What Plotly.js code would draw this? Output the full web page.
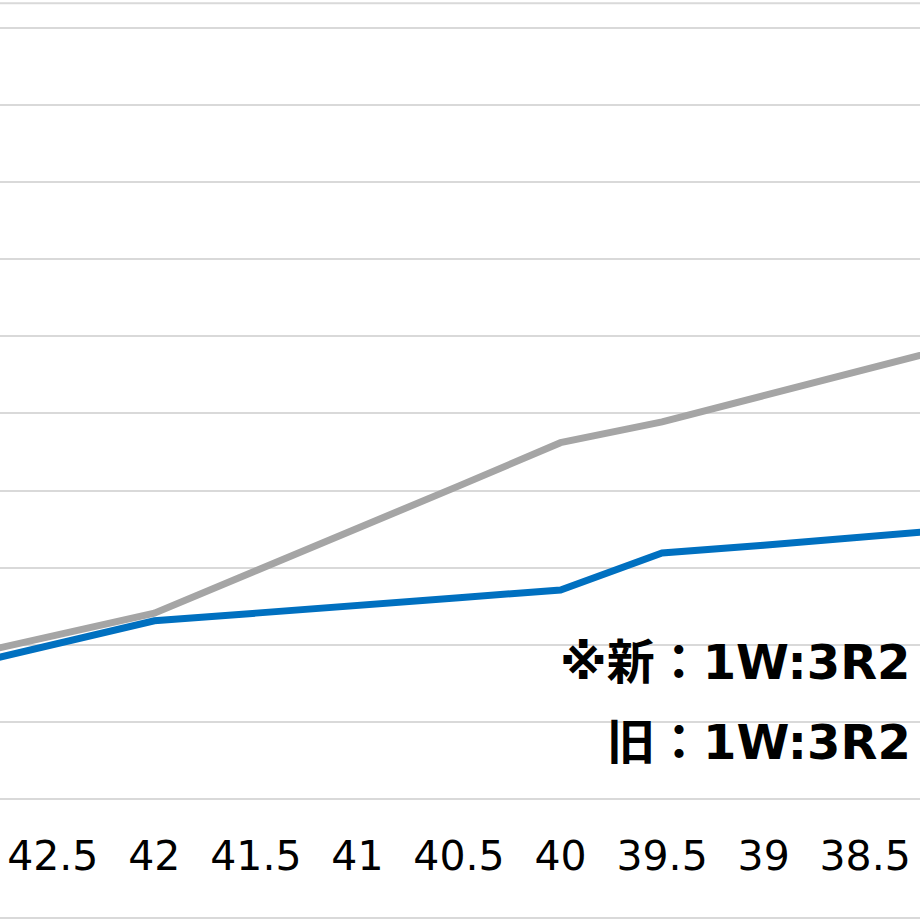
<!DOCTYPE html>
<html>
    <head>
        <meta charset="utf-8">
        <script src="https://cdn.plot.ly/plotly-3.0.1.min.js"></script>
        <style>
            html, body { margin: 0; padding: 0; background: #fff; }
        </style>
    </head>
    <body>
        <div id="plot" style="width:920px;height:920px;"></div>
        <script type="text/javascript">
            // x categories (axis runs high -> low)
            var xVals = [43, 42.5, 42, 41.5, 41, 40.5, 40, 39.5, 39, 38.5, 38];
            var tickVals = [42.5, 42, 41.5, 41, 40.5, 40, 39.5, 39, 38.5];
            var tickText = ['42.5', '42', '41.5', '41', '40.5', '40', '39.5', '39', '38.5'];

            // values
            var newVals = [16.9, 20.0, 23.1, 24.1, 25.0, 26.1, 27.1, 31.9, 32.9, 34.0, 35.1];
            var oldVals = [18.2, 21.1, 24.1, 29.6, 35.0, 40.6, 46.2, 48.9, 52.3, 55.8, 59.1];

            var noteLines = ['※新：1W:3R2', '旧：1W:3R2'];

            var traces = [
                {x: xVals, y: oldVals, name: '旧', mode: 'lines',
                 line: {color: '#A5A5A5', width: 7}},
                {x: xVals, y: newVals, name: '新', mode: 'lines',
                 line: {color: '#0070C0', width: 7}}
            ];

            var noteFont = {family: 'DejaVu Sans, "Noto Sans CJK JP", sans-serif', size: 48, color: '#000'};

            var layout = {
                width: 920,
                height: 920,
                margin: {l: 0, r: 0, t: 0, b: 121},
                paper_bgcolor: '#fff',
                plot_bgcolor: '#fff',
                showlegend: false,
                xaxis: {
                    range: [42.76, 38.23],
                    tickvals: tickVals,
                    ticktext: tickText,
                    ticks: '',
                    showgrid: false,
                    zeroline: false,
                    showline: false,
                    ticklabelstandoff: 29,
                    tickfont: {family: 'DejaVu Sans, sans-serif', size: 41, color: '#000'}
                },
                yaxis: {
                    range: [0, 103.6],
                    dtick: 10,
                    tick0: 0,
                    showticklabels: false,
                    ticks: '',
                    showgrid: true,
                    gridcolor: '#D9D9D9',
                    gridwidth: 2,
                    zeroline: false,
                    showline: false
                },
                shapes: [
                    {type: 'line', xref: 'paper', yref: 'paper', x0: 0, x1: 1, y0: 0, y1: 0,
                     line: {color: '#D9D9D9', width: 2}},
                    {type: 'line', xref: 'paper', yref: 'paper', x0: 0, x1: 1, y0: 0.996, y1: 0.996,
                     line: {color: '#D9D9D9', width: 2}},
                    {type: 'line', xref: 'paper', yref: 'paper', x0: 0, x1: 1, y0: -0.149, y1: -0.149,
                     line: {color: '#D9D9D9', width: 2}}
                ],
                annotations: [
                    {xref: 'paper', yref: 'paper', x: 0.992, y: (799 - 662) / 799,
                     xanchor: 'right', yanchor: 'middle', showarrow: false,
                     text: '<b>' + noteLines[0] + '</b>', font: noteFont},
                    {xref: 'paper', yref: 'paper', x: 0.992, y: (799 - 742) / 799,
                     xanchor: 'right', yanchor: 'middle', showarrow: false,
                     text: '<b>' + noteLines[1] + '</b>', font: noteFont}
                ]
            };

            Plotly.newPlot('plot', traces, layout, {staticPlot: true});
        </script>
    </body>
</html>
